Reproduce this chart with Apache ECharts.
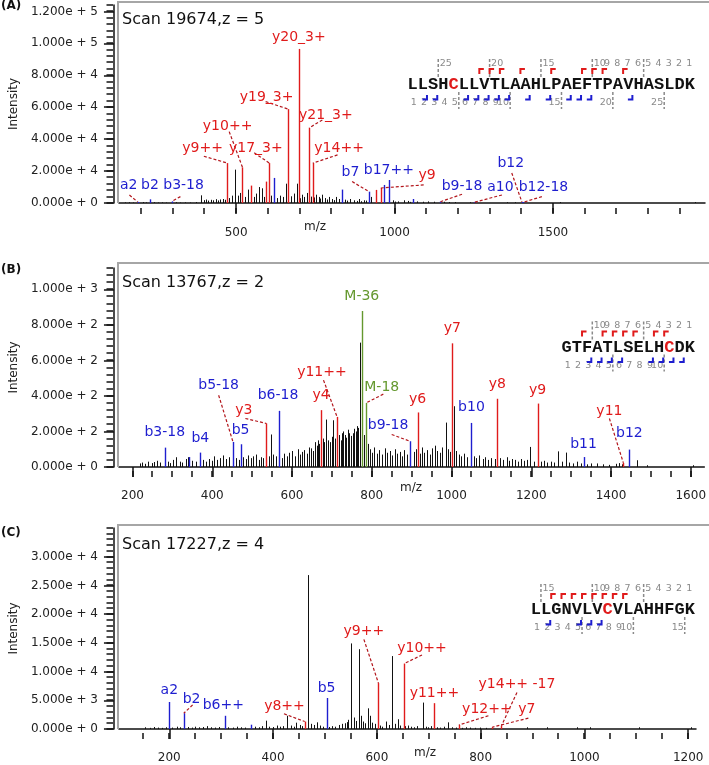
<!DOCTYPE html>
<html>
<head>
<meta charset="utf-8">
<script src="https://cdn.jsdelivr.net/npm/echarts/dist/echarts.min.js"></script>
<style>
  html, body { margin: 0; padding: 0; background: #fff; }
  #main { width: 709px; height: 765px; }
</style>
</head>
<body>
<div id="main"></div>
<script>
// ---------- panel A : Scan 19674, z = 5 ----------
var blackA = [[150,400],[162,500],[175,300],[189,500],[205,600],[214,400],[240,500],[252,300],[266,400],[280,300],[310,500],[322,300],[340,400],[355,300],[372,600],[390,4800],[398,1800],[405,2200],[412,1500],[420,2000],[428,1700],[435,2400],[442,1600],[450,2200],[458,2500],[465,2000],[478,3100],[487,4600],[496,20900],[505,4600],[512,6300],[529,3800],[538,8400],[555,3800],[564,5900],[571,10000],[580,9200],[587,3800],[611,4600],[630,3100],[638,4600],[647,3800],[656,12100],[674,4200],[682,5900],[692,12100],[700,3000],[707,5200],[715,3800],[723,6300],[735,4000],[745,3500],[751,5200],[760,3800],[764,2800],[770,5200],[781,3100],[786,2200],[793,3800],[804,2500],[810,1800],[816,3800],[826,2500],[843,2100],[850,1500],[858,2500],[872,1700],[880,1300],[887,2500],[895,1100],[903,1700],[910,1500],[926,3800],[994,1700],[1000,900],[1012,1000],[1030,1700],[1041,1300],[1050,700],[1071,1000],[1089,800],[1107,1000],[1124,800],[1156,800],[1172,600],[1190,600],[1237,500],[1255,500],[1355,500],[1379,500],[1521,600],[1948,600]];
var redA = [[472,25000],[520,22300],[547,10900],[594,13400],[605,25000],[664,58800],[698,96500],[730,47000],[742,25000],[940,8200],[956,9400]];
var blueA = [[189,700],[227,2300],[297,1000],[620,15700],[834,8400],[920,7100],[966,11300],[984,14400],[1057,2500],[1145,800],[1250,400],[1402,600],[1407,500]];
var seqA = 'LLSHCLLVTLAAHLPAEFTPAVHASLDK';
var yIonsA = [21,20,19,17,14,11,10,9,7];
var bIonsA = [2,3,6,7,8,9,10,12,14,16,17,18,22];
// [text, ion colour, peak m/z, label m/z, label intensity, bend m/z, bend intensity]
var annA = [
  ['y20_3+','y',698,698,104000],
  ['y19_3+','y',664,596,66000,593,63500],
  ['y21_3+','y',730,783,55000,772,52000],
  ['y10++','y',520,473,48000,478,44700],
  ['y9++','y',472,394,34000,398,29300],
  ['y17_3+','y',605,562,34000,557,31400],
  ['y14++','y',742,825,34000,820,30100],
  ['a2','b',189,161,11300,163,5000],
  ['b2','b',227,228,11300],
  ['b3-18','b',297,334,11300,324,4000],
  ['b7','b',920,861,19000,866,13400],
  ['b17++','b',984,982,20300],
  ['y9','y',956,1103,17600,1092,11300],
  ['b9-18','b',1145,1213,10700,1213,5500],
  ['a10','b',1250,1334,9900,1339,5000],
  ['b12','b',1402,1367,24900,1370,18800],
  ['b12-18','b',1407,1470,9900,1465,4000]
];
var xLabelsA = [500,1000,1500];
var yLabelsA = [0,20000,40000,60000,80000,100000,120000];

// ---------- panel B : Scan 13767, z = 2 ----------
var blackB = [[219,20],[225,25],[232,18],[240,30],[248,22],[255,28],[262,35],[270,25],[288,30],[295,22],[302,40],[310,55],[318,30],[325,25],[333,45],[338,55],[350,35],[358,30],[378,40],[385,30],[392,45],[400,35],[405,60],[412,40],[420,50],[428,65],[435,45],[442,55],[460,50],[466,40],[478,55],[485,45],[490,65],[497,50],[503,60],[509,70],[516,40],[522,55],[528,50],[542,60],[547,183],[553,70],[560,60],[574,50],[580,75],[587,60],[593,80],[600,90],[607,60],[614,100],[620,70],[626,85],[631,95],[638,75],[642,110],[647,105],[652,90],[658,140],[662,120],[666,150],[668,130],[677,160],[681,140],[685,267],[690,150],[695,140],[700,170],[704,263],[708,160],[717,180],[722,150],[725,190],[728,200],[732,180],[735,165],[740,210],[744,190],[748,175],[752,190],[756,215],[760,200],[763,230],[766,220],[771,700],[780,180],[790,130],[795,100],[800,80],[806,110],[812,75],[818,95],[825,70],[832,105],[838,80],[845,90],[852,65],[858,100],[864,75],[870,85],[876,60],[882,95],[888,70],[905,85],[910,100],[920,75],[926,110],[932,80],[938,95],[945,70],[952,105],[958,120],[963,90],[970,80],[976,110],[985,250],[992,100],[996,85],[1005,342],[1012,90],[1018,70],[1025,60],[1032,75],[1040,55],[1056,60],[1062,50],[1070,65],[1078,45],[1085,55],[1092,40],[1100,50],[1108,45],[1115,147],[1122,50],[1130,40],[1138,55],[1145,35],[1152,45],[1160,40],[1168,30],[1175,45],[1182,35],[1190,40],[1198,113],[1206,30],[1217,149],[1225,30],[1232,35],[1240,25],[1250,30],[1258,25],[1268,88],[1276,30],[1287,81],[1295,25],[1305,20],[1315,30],[1325,20],[1340,15],[1350,20],[1366,20],[1380,15],[1395,12],[1412,18],[1420,22],[1428,15],[1465,38],[1491,10],[1606,10]];
var redB = [[536,245],[672,320],[713,282],[915,307],[1002,696],[1115,384],[1217,357],[1431,23]];
var blueB = [[281,109],[341,56],[369,81],[452,141],[471,128],[567,316],[896,145],[1049,248],[1333,56],[1446,98]];
var greenB = [[776,878],[786,361]];
var seqB = 'GTFATLSELHCDK';
var yIonsB = [11,9,8,7,6,4,3];
var bIonsB = [3,4,5,6,9,10,11,12];
var annB = [
  ['b3-18','b',281,281,197],
  ['b4','b',369,370,164],
  ['b5-18','b',452,416,461,416,404],
  ['b5','b',471,471,207],
  ['y3','y',536,479,320,483,273],
  ['b6-18','b',567,565,404],
  ['y4','y',672,673,404],
  ['y11++','y',713,675,530,679,489],
  ['M-36','M',776,775,959],
  ['M-18','M',786,825,451,829,410],
  ['b9-18','b',896,841,235,850,183],
  ['y6','y',915,915,380],
  ['y7','y',1002,1002,780],
  ['b10','b',1049,1050,338],
  ['y8','y',1115,1115,466],
  ['y9','y',1217,1216,432],
  ['b11','b',1333,1331,128],
  ['y11','y',1431,1396,314,1396,273],
  ['b12','b',1446,1446,188]
];
var xLabelsB = [200,400,600,800,1000,1200,1400,1600];
var yLabelsB = [0,200,400,600,800,1000];

// ---------- panel C : Scan 17227, z = 4 ----------
var blackC = [[154,300],[162,200],[170,350],[178,250],[186,200],[194,300],[206,250],[214,400],[221,300],[236,350],[243,250],[250,400],[258,300],[265,350],[272,500],[280,300],[288,250],[296,350],[314,300],[322,250],[330,400],[338,300],[346,250],[366,400],[372,300],[378,500],[386,1450],[393,400],[400,350],[408,600],[414,400],[420,500],[427,2300],[434,600],[440,400],[445,1100],[452,700],[456,500],[468,26800],[473,900],[478,700],[485,1160],[490,600],[496,400],[508,350],[514,500],[520,400],[527,700],[533,900],[538,1000],[542,1200],[545,1600],[550,14900],[555,2000],[559,1400],[565,13900],[570,2300],[574,1300],[578,1000],[583,3600],[587,2300],[591,1100],[596,900],[606,600],[610,400],[618,1300],[624,700],[630,12700],[634,900],[640,1700],[645,600],[655,500],[660,600],[666,400],[672,300],[678,500],[688,4600],[694,400],[698,300],[705,500],[716,300],[722,250],[730,400],[738,1160],[745,300],[752,250],[765,200],[772,300],[780,250],[790,200],[798,250],[810,200],[889,300],[928,300],[985,300],[1011,300],[1105,300],[1206,300]];
var redC = [[461,1300],[603,8000],[653,11400],[711,4500],[758,700],[822,300],[840,550]];
var blueC = [[200,4700],[228,2750],[307,2300],[357,750],[503,5400]];
var seqC = 'LLGNVLVCVLAHHFGK';
var yIonsC = [14,13,12,11,10,9,8,7];
var bIonsC = [2,5,6,7];
var annC = [
  ['a2','b',200,200,6650],
  ['b2','b',228,243,5200,245,4200],
  ['b6++','b',307,304,4200],
  ['y8++','y',461,422,3900,421,2650],
  ['b5','b',503,503,7100],
  ['y9++','y',603,575,16950,575,15600],
  ['y10++','y',653,687,14050,687,12900],
  ['y11++','y',711,711,6250],
  ['y12++','y',758,812,3470,815,2300],
  ['y14++ -17','y',840,870,7700,870,6350],
  ['y7','y',822,889,3350,892,1900]
];
var xLabelsC = [200,400,600,800,1000,1200];
var yLabelsC = [0,5000,10000,15000,20000,25000,30000];

// ---------- helpers ----------
var RED = '#e01b1b', BLUE = '#1e1ecf', GREEN = '#64982e', LEAD = '#b3151b';
var ionColor = { y: RED, b: BLUE, M: GREEN };
var FONT = '"DejaVu Sans", Verdana, sans-serif';

function range(a, b, s) { var r = []; for (var v = a; v <= b + 1e-9; v += s) r.push(v); return r; }
function sci(v) {
  if (v === 0) return '0.000e + 0';
  var e = Math.floor(Math.log10(v) + 1e-9);
  return (v / Math.pow(10, e)).toFixed(3) + 'e + ' + e;
}
function findPeak(lists, mz) {
  var best = null;
  lists.forEach(function (l) { l.forEach(function (p) { if (!best || Math.abs(p[0] - mz) < Math.abs(best[0] - mz)) best = p; }); });
  return best;
}

var panels = [
  { black: blackA, red: redA, blue: blueA, green: [], ann: annA,
    grid: { left: 118, top: 5, width: 587, height: 198 }, xMin: 130, xMax: 1980, yMax: 124000, xOff: 5,
    xLab: xLabelsA, xMinor: range(200, 1900, 100), yLab: yLabelsA, yMinor: range(0, 124000, 4000) },
  { black: blackB, red: redB, blue: blueB, green: greenB, ann: annB,
    grid: { left: 118, top: 268, width: 587, height: 199 }, xMin: 166, xMax: 1634, yMax: 1120, xOff: 4,
    xLab: xLabelsB, xMinor: range(200, 1600, 50), yLab: yLabelsB, yMinor: range(0, 1120, 40) },
  { black: blackC, red: redC, blue: blueC, green: [], ann: annC,
    grid: { left: 118, top: 528, width: 578, height: 201 }, xMin: 103, xMax: 1215, yMax: 35000, xOff: 4,
    xLab: xLabelsC, xMinor: range(150, 1200, 50), yLab: yLabelsC, yMinor: range(0, 35000, 1000) }
];

var grids = [], xAxes = [], yAxes = [], series = [];
var axisStyle = { color: '#111', width: 1.5 };
var Y_OFF = 5;

panels.forEach(function (p, i) {
  grids.push(p.grid);
  xAxes.push({ gridIndex: i, type: 'value', position: 'bottom', offset: p.xOff, min: p.xMin, max: p.xMax,
    axisLine: { lineStyle: axisStyle }, splitLine: { show: false },
    axisTick: { customValues: p.xLab, length: 10, lineStyle: axisStyle },
    axisLabel: { customValues: p.xLab, formatter: function (v) { return String(v); },
      margin: 19, color: '#222', fontSize: 12, fontFamily: FONT } });
  yAxes.push({ gridIndex: i, type: 'value', position: 'left', offset: Y_OFF, min: 0, max: p.yMax,
    name: 'Intensity', nameLocation: 'middle', nameGap: 93,
    nameTextStyle: { fontSize: 12, color: '#222', fontFamily: FONT },
    axisLine: { lineStyle: axisStyle }, splitLine: { show: false },
    axisTick: { customValues: p.yLab, length: 10, lineStyle: axisStyle },
    axisLabel: { customValues: p.yLab, formatter: sci, margin: 16, color: '#222', fontSize: 12, fontFamily: FONT } });

  // minor x ticks, placed through the axis scale
  series.push({ type: 'custom', xAxisIndex: i, yAxisIndex: i, silent: true, clip: false,
    data: p.xMinor.map(function (v) { return [v, 0]; }),
    renderItem: function (params, api) {
      var c = api.coord([api.value(0), 0]), x = Math.round(c[0]), y = c[1] + p.xOff;
      return { type: 'rect', shape: { x: x - 0.75, y: y, width: 1.5, height: 6 }, style: { fill: '#111' } };
    } });

  function peaks(data, color, w) {
    return { type: 'custom', xAxisIndex: i, yAxisIndex: i, data: data, silent: true,
      renderItem: function (params, api) {
        var a = api.coord([api.value(0), 0]), b = api.coord([api.value(0), api.value(1)]);
        var x = Math.round(a[0]) + 0.5;
        return { type: 'line', shape: { x1: x, y1: a[1], x2: x, y2: b[1] }, style: { stroke: color, lineWidth: w } };
      } };
  }
  series.push(peaks(p.black, '#111', 1));
  series.push(peaks(p.red, RED, 1.4));
  series.push(peaks(p.blue, BLUE, 1.4));
  if (p.green.length) series.push(peaks(p.green, GREEN, 1.4));

  var all = [p.red, p.blue, p.green];
  var leaders = p.ann.filter(function (a) { return a.length > 5; }).map(function (a) {
    var pk = findPeak(all, a[2]);
    return [a[5], a[6], pk[0], pk[1]];
  });
  series.push({ type: 'custom', xAxisIndex: i, yAxisIndex: i, data: leaders, silent: true, clip: false,
    renderItem: function (params, api) {
      var a = api.coord([api.value(0), api.value(1)]), b = api.coord([api.value(2), api.value(3)]);
      return { type: 'line', shape: { x1: a[0], y1: a[1], x2: b[0], y2: b[1] },
        style: { stroke: LEAD, lineWidth: 1.2, lineDash: [3, 2] } };
    } });
  series.push({ type: 'custom', xAxisIndex: i, yAxisIndex: i, silent: true, clip: false,
    data: p.ann.map(function (a) { return [a[3], a[4]]; }),
    renderItem: function (params, api) {
      var a = p.ann[params.dataIndex], c = api.coord([api.value(0), api.value(1)]);
      return { type: 'text', x: c[0], y: c[1],
        style: { text: a[0], fill: ionColor[a[1]], font: '14px ' + FONT, align: 'center', verticalAlign: 'middle' } };
    } });
});

// ---------- decorations (frames, titles, peptide maps, minor y ticks) ----------
var graphic = [];
function txt(x, y, s, font, fill, align) {
  graphic.push({ type: 'text', x: x, y: y, silent: true, z: 100,
    style: { text: s, font: font, fill: fill, align: align || 'left', verticalAlign: 'middle' } });
}
function seg(pts, stroke, w, dash) {
  graphic.push({ type: 'polyline', silent: true, z: 100, shape: { points: pts },
    style: { stroke: stroke, lineWidth: w, lineDash: dash || null, fill: null } });
}
function box(x, y, w, h) {
  graphic.push({ type: 'rect', silent: true, z: 100, shape: { x: x, y: y, width: w, height: h }, style: { fill: '#111' } });
}
function peptide(seq, yIons, bIons, cy) {
  var adv = 10.27, n = seq.length, x0 = 695 - n * adv;
  for (var i = 0; i < n; i++)
    txt(x0 + adv * (i + 0.5), cy, seq[i], 'bold 17px "Liberation Mono", monospace', seq[i] === 'C' ? RED : '#111', 'center');
  for (var k = 1; k < n; k++) {
    var cx = x0 + k * adv, yi = n - k;
    if (yi <= 10 || yi % 5 === 0) txt(cx + 1.5, cy - 21.5, String(yi), '9.5px ' + FONT, '#8a8a8a', 'left');
    if (k <= 10 || k % 5 === 0) txt(cx - 1, cy + 18, String(k), '9.5px ' + FONT, '#8a8a8a', 'right');
    if (yi % 5 === 0) seg([[cx, cy - 26], [cx, cy - 8]], '#8a8a8a', 1.5, [3, 2]);
    if (k % 5 === 0) seg([[cx, cy + 7], [cx, cy + 24]], '#8a8a8a', 1.5, [3, 2]);
  }
  yIons.forEach(function (yi) {
    var cx = x0 + (n - yi) * adv;
    seg([[cx, cy - 11], [cx, cy - 16], [cx + 4.5, cy - 16]], RED, 2);
  });
  bIons.forEach(function (k) {
    var cx = x0 + k * adv - 1;
    seg([[cx - 4.5, cy + 14.5], [cx, cy + 14.5], [cx, cy + 10]], BLUE, 2);
  });
}

// minor y ticks: position from the grid's value scale (0 .. yMax over the grid height)
panels.forEach(function (p) {
  var g = p.grid, xAxisLine = g.left - Y_OFF;
  p.yMinor.forEach(function (v) {
    var y = Math.round(g.top + g.height * (1 - v / p.yMax));
    box(xAxisLine - 6.5, y - 0.75, 6.5, 1.5);
  });
});

var frames = [[2, 203], [263, 467], [525, 729]];
var letters = ['(A)', '(B)', '(C)'];
var scans = ['Scan 19674,z = 5', 'Scan 13767,z = 2', 'Scan 17227,z = 4'];
var letterY = [6, 270, 533], scanY = [20, 283, 545];
var mzPos = [[315, 227], [411, 488], [425, 753]];
frames.forEach(function (f, i) {
  seg([[709, f[0]], [118, f[0]], [118, f[1]]], '#a6a6a6', 2);
  txt(1, letterY[i], letters[i], 'bold 12px ' + FONT, '#111');
  txt(122, scanY[i], scans[i], '16px ' + FONT, '#111');
  txt(mzPos[i][0], mzPos[i][1], 'm/z', '12px ' + FONT, '#222', 'center');
});
peptide(seqA, yIonsA, bIonsA, 85);
peptide(seqB, yIonsB, bIonsB, 347.5);
peptide(seqC, yIonsC, bIonsC, 610);

var chart = echarts.init(document.getElementById('main'));
chart.setOption({
  animation: false,
  backgroundColor: '#fff',
  grid: grids,
  xAxis: xAxes,
  yAxis: yAxes,
  series: series,
  graphic: { elements: graphic }
});
</script>
</body>
</html>
